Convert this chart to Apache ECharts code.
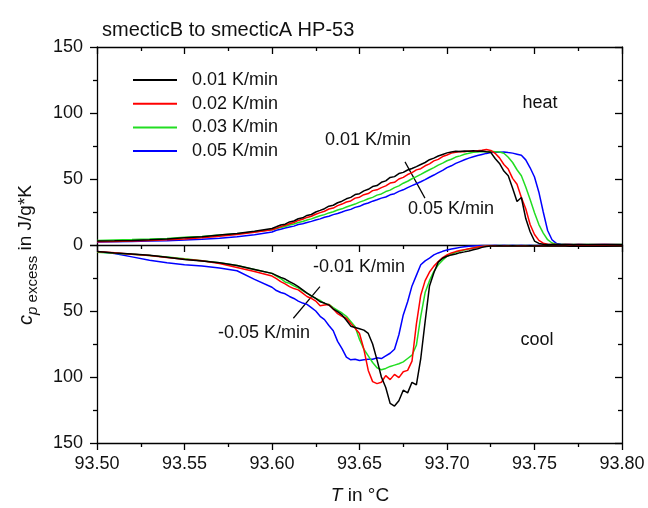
<!DOCTYPE html>
<html>
<head>
<meta charset="utf-8">
<script src="https://cdn.jsdelivr.net/npm/echarts@6/dist/echarts.min.js"></script>
<style>html,body{margin:0;padding:0;background:#fff}#c{width:648px;height:508px}</style>
</head>
<body>
<div id="c"></div>
<script>
const FONT = "'Liberation Sans', Arial, Helvetica, sans-serif";
const seriesNames = ['0.01 K/min', '0.02 K/min', '0.03 K/min', '0.05 K/min'];
const xTicks = [93.50, 93.55, 93.60, 93.65, 93.70, 93.75, 93.80];
const yTicks = [0, 50, 100, 150];

const T = [93.50,93.51,93.52,93.53,93.54,93.55,93.56,93.57,93.58,93.59,
93.600,93.6025,93.605,93.6075,93.610,93.6125,93.615,93.6175,93.620,93.6225,
93.625,93.6275,93.630,93.6325,93.635,93.6375,93.640,93.6425,93.645,93.6475,
93.650,93.6525,93.655,93.6575,93.660,93.6625,93.665,93.6675,93.670,93.6725,
93.675,93.6775,93.680,93.6825,93.685,93.6875,93.690,93.6925,93.695,93.6975,
93.700,93.7025,93.705,93.7075,93.710,93.7125,93.715,93.7175,93.720,93.7225,
93.725,93.7275,93.730,93.7325,93.735,93.7375,93.740,93.7425,93.745,93.7475,
93.750,93.7525,93.755,93.7575,93.760,93.7625,93.765,93.7675,93.770,93.7725,
93.775,93.78,93.79,93.80];

// heating (upper panel)
const heat001 = [3.0,3.2,3.5,4.0,4.6,5.5,6.3,7.6,8.8,10.5,
12.5,13.8,15.2,15.8,17.5,18.2,19.9,20.6,22.4,23.1,
25.0,26.2,27.5,29.4,30.1,32.0,33.2,35.0,36.1,38.2,
38.9,41.0,42.2,44.3,45.0,47.5,48.6,51.2,51.8,54.1,
55.0,56.8,58.0,59.4,61.0,62.5,64.6,65.8,67.4,68.6,
69.8,70.5,71.0,70.8,71.3,71.0,71.4,71.0,71.2,70.6,
70.2,65.5,61.8,56.0,52.5,43.0,33.0,36.0,20.0,10.0,
3.0,1.2,0.6,0.4,0.4,0.3,0.4,0.3,0.3,0.4,
0.3,0.3,0.4,0.3];
const heat002 = [2.5,2.7,3.0,3.4,3.9,4.6,5.5,6.6,8.0,9.6,
11.5,12.6,13.9,15.0,16.1,17.0,18.6,19.5,20.9,21.8,
23.3,24.5,25.6,27.3,28.0,29.8,31.0,32.6,33.4,35.5,
36.2,38.1,39.0,41.2,41.8,43.5,44.8,46.9,47.5,50.0,
51.2,53.4,54.8,56.9,57.8,60.0,61.5,63.7,64.9,67.0,
68.2,69.6,70.3,70.8,70.6,71.2,71.0,71.4,71.8,72.3,
71.6,69.5,66.0,61.0,57.5,50.5,46.0,36.0,27.5,15.5,
8.0,3.5,1.4,0.6,0.3,0.3,0.2,0.3,0.3,0.2,
0.3,0.2,0.3,0.2];
const heat003 = [3.5,3.8,4.1,4.5,5.0,5.8,6.5,7.5,8.6,10.0,
11.6,12.5,13.3,14.0,15.2,15.9,17.0,17.8,19.0,19.8,
21.0,22.1,23.0,24.3,25.2,26.5,27.4,28.8,29.9,31.0,
32.5,33.6,35.0,36.1,37.8,38.7,40.5,41.6,43.5,44.8,
46.8,48.3,50.2,51.8,53.5,55.3,57.0,58.6,60.5,62.0,
63.8,65.0,66.6,67.5,68.8,69.5,70.2,70.5,70.8,70.6,
71.0,70.7,70.4,69.5,66.5,62.5,57.0,52.5,44.0,34.5,
24.5,15.5,9.0,4.0,1.5,0.6,0.3,0.3,0.2,0.3,
0.2,0.3,0.2,0.3];
const heat005 = [2.2,2.4,2.7,3.0,3.3,3.7,4.3,5.2,6.3,7.8,
9.8,11.2,12.0,12.8,13.6,14.3,15.5,16.1,17.0,17.9,
19.0,19.8,21.0,21.8,23.0,23.9,25.0,26.2,27.0,28.5,
29.3,30.9,31.8,33.2,34.3,35.5,36.4,38.0,38.9,40.6,
41.8,43.5,45.0,46.4,47.9,49.5,51.3,53.0,54.8,56.5,
58.6,60.0,61.8,63.2,64.6,65.8,66.9,67.8,68.6,69.4,
70.0,70.4,70.2,70.5,70.0,69.6,68.8,68.0,64.5,58.5,
51.5,40.0,25.0,11.0,4.0,1.2,0.5,0.3,0.3,0.2,
0.3,0.2,0.3,0.2];

// cooling (lower panel, axis pointing down)
const cool001 = [5.0,6.0,6.8,7.8,9.2,11.0,12.2,13.5,15.5,18.5,
21.5,23.0,24.5,25.8,27.8,29.5,31.6,34.0,36.5,38.5,
40.5,43.0,44.0,45.5,48.5,50.5,53.0,57.0,61.5,62.5,
63.5,64.5,67.0,75.0,87.0,100.0,108.0,120.0,122.0,118.0,
110.0,112.0,104.0,106.0,86.0,58.0,31.0,21.0,13.0,10.0,
8.5,7.5,6.8,5.8,5.2,4.5,3.6,2.8,1.8,1.2,
0.8,0.7,0.6,0.7,0.8,0.6,0.7,0.8,0.7,0.6,
0.7,0.8,0.7,0.6,0.7,0.8,0.7,0.8,0.9,0.8,
0.9,1.0,0.9,0.8];
const cool002 = [5.0,5.8,7.0,8.0,9.5,10.8,12.0,14.0,17.0,20.0,
23.5,25.5,27.8,29.5,31.5,33.0,34.0,36.5,39.0,40.5,
42.5,46.0,45.5,45.0,48.5,52.0,54.0,55.5,59.5,63.0,
67.0,79.0,95.0,103.5,105.0,104.0,99.0,102.0,98.0,100.5,
96.0,95.0,88.0,60.0,38.0,27.0,20.5,16.0,12.5,9.5,
7.5,6.0,5.0,4.2,3.5,2.8,2.2,1.6,1.1,0.8,
0.6,0.5,0.6,0.5,0.6,0.5,0.5,0.6,0.5,0.6,
0.5,0.6,0.5,0.6,0.5,0.6,0.5,0.6,0.5,0.6,
0.5,0.6,0.5,0.6];
const cool003 = [5.5,6.2,7.0,8.0,9.0,10.5,12.0,13.5,15.5,18.5,
21.5,23.5,25.5,28.0,29.0,31.0,32.5,34.5,36.5,38.5,
40.5,42.0,44.5,45.0,47.5,49.5,51.5,54.0,58.0,62.0,
71.5,79.0,84.0,89.0,93.0,94.5,93.5,92.0,91.0,90.0,
88.5,86.0,83.5,76.0,54.0,36.0,27.0,20.0,15.0,11.5,
8.5,7.0,5.5,4.5,3.8,3.0,2.3,1.6,1.1,0.8,
0.6,0.5,0.4,0.5,0.4,0.5,0.4,0.5,0.4,0.5,
0.4,0.5,0.4,0.5,0.4,0.5,0.4,0.5,0.4,0.5,
0.4,0.5,0.4,0.5];
const cool005 = [5.0,6.5,9.0,11.5,13.5,15.0,16.0,17.5,19.5,26.0,
32.0,34.5,36.0,37.0,39.0,40.5,42.5,44.0,45.0,47.5,
50.0,54.0,56.5,61.0,65.0,73.0,78.5,85.0,87.0,86.5,
87.5,87.0,86.5,86.5,85.5,86.0,84.0,82.0,79.0,68.0,
53.0,43.0,31.0,23.0,15.0,12.0,10.0,7.5,6.0,4.8,
3.8,3.0,2.4,1.8,1.3,0.9,0.7,0.5,0.4,0.3,
0.3,0.2,0.3,0.2,0.3,0.2,0.3,0.2,0.3,0.2,
0.3,0.2,0.3,0.2,0.3,0.2,0.3,0.2,0.3,0.2,
0.3,0.2,0.3,0.2];

const colors = ['#000000', '#ff0000', '#22dd22', '#0000ff'];
const heatSets = [heat001, heat002, heat003, heat005];
const coolSets = [cool001, cool002, cool003, cool005];

const pairs = arr => T.map((t, i) => [t, arr[i]]);
const AX = { color: '#000', width: 1.3 };

function xAx(grid, pos, inside, labels) {
  return {
    type: 'value', gridIndex: grid, position: pos, min: xTicks[0], max: xTicks[xTicks.length - 1], interval: 0.05,
    axisLine: { show: true, onZero: false, lineStyle: AX },
    axisTick: { show: true, inside: inside, length: 7, lineStyle: AX },
    minorTick: { show: true, splitNumber: 2, length: 4, lineStyle: AX },
    axisLabel: { show: labels, fontSize: 18, color: '#111', fontFamily: FONT, margin: 12,
      formatter: v => v.toFixed(2) },
    splitLine: { show: false }
  };
}
function yAx(grid, pos, inside, labels, inverse, hideZero) {
  return {
    type: 'value', gridIndex: grid, position: pos, min: yTicks[0], max: yTicks[yTicks.length - 1], interval: 50,
    inverse: inverse,
    axisLine: { show: true, onZero: false, lineStyle: AX },
    axisTick: { show: true, inside: inside, length: 7, lineStyle: AX },
    minorTick: { show: true, splitNumber: 2, length: 4, lineStyle: AX },
    axisLabel: { show: labels, fontSize: 18, color: '#111', fontFamily: FONT, margin: 14,
      formatter: v => (hideZero && v === 0) ? '' : String(v) },
    splitLine: { show: false }
  };
}

const series = [];
for (let k = 3; k >= 0; k--) {
  const s = {
    name: seriesNames[k], type: 'line', xAxisIndex: 0, yAxisIndex: 0,
    data: pairs(heatSets[k]), symbol: 'none', showSymbol: false,
    lineStyle: { color: colors[k], width: 1.5 }, itemStyle: { color: colors[k] }, z: 10 - k
  };
  if (k === 0) {
    s.markLine = { silent: true, symbol: ['none', 'arrow'], symbolSize: [0, 9],
      label: { show: false }, lineStyle: { color: '#000', width: 1.2, type: 'solid' },
      data: [[{ coord: [93.676, 63] }, { coord: [93.6874, 35.5] }]] };
  }
  series.push(s);
}
for (let k = 3; k >= 0; k--) {
  const s = {
    name: seriesNames[k], type: 'line', xAxisIndex: 2, yAxisIndex: 2,
    data: pairs(coolSets[k]), symbol: 'none', showSymbol: false,
    lineStyle: { color: colors[k], width: 1.5 }, itemStyle: { color: colors[k] }, z: 10 - k
  };
  if (k === 0) {
    s.markLine = { silent: true, symbol: ['none', 'arrow'], symbolSize: [0, 9],
      label: { show: false }, lineStyle: { color: '#000', width: 1.2, type: 'solid' },
      data: [[{ coord: [93.6274, 31.6] }, { coord: [93.6122, 55.5] }]] };
  }
  series.push(s);
}

const txt = (x, y, text, align) => ({
  type: 'text', x: x, y: y, z: 100,
  style: { text: text, fill: '#111', font: '18px ' + FONT, align: align || 'left', verticalAlign: 'middle' }
});

const chart = echarts.init(document.getElementById('c'), null, { renderer: 'canvas' });
chart.setOption({
  animation: false,
  backgroundColor: '#fff',
  title: { text: 'smecticB to smecticA HP-53', left: 97, top: 15,
    textStyle: { fontSize: 20, fontWeight: 'normal', color: '#111', fontFamily: FONT } },
  legend: {
    orient: 'vertical', left: 128, top: 66, icon: 'rect', itemWidth: 44, itemHeight: 2, itemGap: 5.7,
    selectedMode: false, data: seriesNames,
    textStyle: { fontSize: 18, lineHeight: 18, color: '#111', fontFamily: FONT, padding: [0, 0, 0, 10] }
  },
  grid: [
    { left: 97, right: 26, top: 47, height: 198 },
    { left: 97, right: 26, top: 245, height: 198 }
  ],
  xAxis: [xAx(0, 'bottom', false, false), xAx(0, 'top', true, false), xAx(1, 'bottom', false, true)],
  yAxis: [yAx(0, 'left', false, true, false, false), yAx(0, 'right', true, false, false, false),
          yAx(1, 'left', false, true, true, true), yAx(1, 'right', true, false, true, false)],
  series: series,
  graphic: [
    txt(325, 140, '0.01 K/min'),
    txt(408, 209, '0.05 K/min'),
    txt(313, 267, '-0.01 K/min'),
    txt(218, 333, '-0.05 K/min'),
    txt(540, 103, 'heat', 'center'),
    txt(537, 340, 'cool', 'center'),
    { type: 'text', x: 360, y: 496, z: 100,
      style: { text: '{i|T}{n| in °C}', align: 'center', verticalAlign: 'middle',
        rich: { i: { fontSize: 19, fontStyle: 'italic', fill: '#111', fontFamily: FONT },
                n: { fontSize: 19, fill: '#111', fontFamily: FONT } } } },
    { type: 'text', x: 26, y: 255, rotation: Math.PI / 2, z: 100,
      style: { text: '{i|c}{s|p}{t| excess}{n| in J/g*K}', align: 'center', verticalAlign: 'middle',
        rich: { i: { fontSize: 20, fontStyle: 'italic', fill: '#111', fontFamily: FONT, lineHeight: 28 },
                s: { fontSize: 15, fontStyle: 'italic', fill: '#111', fontFamily: FONT, verticalAlign: 'bottom', lineHeight: 16 },
                t: { fontSize: 15, fill: '#111', fontFamily: FONT, verticalAlign: 'bottom', lineHeight: 16 },
                n: { fontSize: 19, fill: '#111', fontFamily: FONT, lineHeight: 28 } } } }
  ]
});
</script>
</body>
</html>
